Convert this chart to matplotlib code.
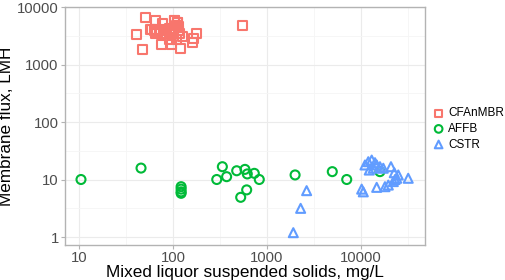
import numpy as np
import matplotlib
matplotlib.use("Agg")
import matplotlib.pyplot as plt

plt.rcParams['font.family'] = ['Liberation Sans', 'DejaVu Sans']

# Data (MLSS mg/L, flux LMH)
cfanmbr_x = [51.6, 65.5, 41.1, 47.6, 77.6, 58.3, 64.4, 105, 111, 85.7, 92.9, 75.9, 96.8,
             108, 119, 127, 164, 162, 176, 546,
             59.3, 62.8, 67.1, 72.7, 78.9, 85.7, 92.9, 100.7, 105, 111, 108, 113.8,
             113.8, 118.6, 96.8, 82.2, 64.4]
cfanmbr_y = [6620, 5780, 3300, 1790, 5210, 4140, 3720, 5780, 5340, 3490, 2740, 2270, 2240,
             2740, 1910, 3130, 2860, 2400, 3490, 4680,
             4140, 3830, 4140, 3830, 4140, 3980, 4260, 4260, 5710, 5420, 4860, 4540,
             3830, 3490, 3490, 3490, 3490]

affb_x = [10.5, 45.7, 122, 122, 122, 122, 292, 335, 372, 476, 525, 583, 617, 608, 733, 828,
          1990, 4950, 7050, 15900]
affb_y = [10.0, 15.8, 7.5, 6.8, 6.1, 5.75, 10.0, 16.7, 11.2, 14.2, 4.9, 15.0, 12.5, 6.6, 12.8, 10.0,
          12.0, 13.7, 10.0, 13.7]

cstr_x = [1905, 2280, 2640, 11030, 11960, 13000, 14090, 14690, 15920, 12250, 13510, 17260,
          20840, 22590, 24930, 23970, 23010, 22090, 19520, 17990, 14690, 10170, 10580, 31800]
cstr_y = [1.19, 3.15, 6.4, 17.9, 20.4, 21.8, 19.6, 17.9, 16.7, 14.6, 15.7, 15.7,
          16.7, 13.1, 12.0, 10.5, 10.0, 9.2, 8.0, 7.5, 7.3, 6.8, 6.1, 10.5]

series = [("CFAnMBR", cfanmbr_x, cfanmbr_y, "s", "#F8766D"),
          ("AFFB", affb_x, affb_y, "o", "#00BA38"),
          ("CSTR", cstr_x, cstr_y, "^", "#619CFF")]

x_ticks = [10, 100, 1000, 10000]
x_labels = ["10", "100", "1000", "10000"]
y_ticks = [1, 10, 100, 1000, 10000]
y_labels = ["1", "10", "100", "1000", "10000"]

fig = plt.figure(figsize=(5.05, 2.8), dpi=100)
ax = fig.add_axes([65/505, 1-245/280, (425-65)/505, (245-7)/280])

for name, xs, ys, m, c in series:
    ax.scatter(xs, ys, marker=m, s=42, facecolors='none', edgecolors=c, linewidths=1.5,
               label=name, zorder=3)

ax.set_xscale('log')
ax.set_yscale('log')
ax.set_xlim(10**0.851, 10**4.681)
ax.set_ylim(10**-0.139, 10**4.0)

ax.set_xticks(x_ticks)
ax.set_xticklabels(x_labels)
ax.set_yticks(y_ticks)
ax.set_yticklabels(y_labels)
ax.xaxis.set_minor_locator(matplotlib.ticker.FixedLocator([10**0.5 * t for t in [1, 10, 100, 1000, 10000]]))
ax.yaxis.set_minor_locator(matplotlib.ticker.FixedLocator([10**0.5 * t for t in [0.1, 1, 10, 100, 1000]]))
ax.xaxis.set_minor_formatter(matplotlib.ticker.NullFormatter())
ax.yaxis.set_minor_formatter(matplotlib.ticker.NullFormatter())

ax.grid(True, which='major', color='#EBEBEB', linewidth=0.8, zorder=0)
ax.grid(True, which='minor', color='#F5F5F5', linewidth=0.6, zorder=0)
ax.set_axisbelow(True)
ax.tick_params(which='minor', length=0)
ax.tick_params(which='major', length=3, color='#B3B3B3', width=0.8,
               labelsize=10.7, labelcolor='#4D4D4D', pad=1.5)
for sp in ax.spines.values():
    sp.set_color('#B3B3B3')
    sp.set_linewidth(1.0)

ax.set_xlabel("Mixed liquor suspended solids, mg/L", fontsize=12.3, labelpad=0)
ax.set_ylabel("Membrane flux, LMH", fontsize=12.3, labelpad=2)

leg = fig.legend(loc='center left', bbox_to_anchor=(428/505, 1-129/280), frameon=False,
                 fontsize=8.5, handletextpad=0.3, labelspacing=0.3, borderaxespad=0,
                 handlelength=1.0, markerscale=0.85)

fig.savefig("out.png", dpi=100)
